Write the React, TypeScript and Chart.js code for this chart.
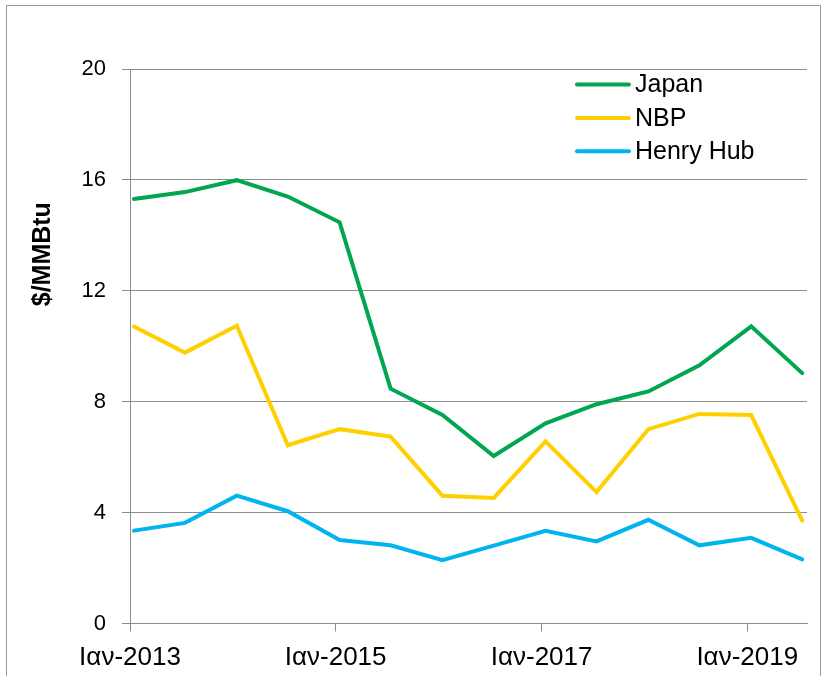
import React, { useEffect, useRef } from "react";
import { Chart, registerables } from "chart.js";

Chart.register(...registerables);

// Observation dates (semi-annual)
const dates = [
  "2013-01-15", "2013-07-15", "2014-01-15", "2014-07-15", "2015-01-15",
  "2015-07-15", "2016-01-15", "2016-07-15", "2017-01-15", "2017-07-15",
  "2018-01-15", "2018-07-15", "2019-01-15", "2019-07-15",
];

const seriesNames = ["Japan", "NBP", "Henry Hub"];
const seriesColors = ["#00A651", "#FFD000", "#00B4F0"];

const japan = [15.31, 15.56, 15.99, 15.4, 14.47, 8.47, 7.52, 6.04, 7.22, 7.91, 8.37, 9.31, 10.72, 9.03];
const nbp = [10.71, 9.77, 10.74, 6.43, 7.01, 6.74, 4.61, 4.53, 6.57, 4.74, 7.01, 7.56, 7.52, 3.71];
const henryHub = [3.35, 3.63, 4.61, 4.05, 3.01, 2.82, 2.28, 2.81, 3.34, 2.96, 3.74, 2.82, 3.09, 2.31];

const axisStart = "2013-01-01";
const axisEnd = "2019-08-01";
const tickDates = ["2013-01-01", "2015-01-01", "2017-01-01", "2019-01-01"];
const tickLabels = ["Ιαν-2013", "Ιαν-2015", "Ιαν-2017", "Ιαν-2019"];

const yMin = 0;
const yMax = 20;
const yStep = 4;
const yTitle = "$/MMBtu";

const FONT = "'Liberation Sans', Arial, sans-serif";
const GRID = "#8c8c8c";

const dayOf = (s: string) => {
  const [y, m, d] = s.split("-").map(Number);
  const [y0, m0, d0] = axisStart.split("-").map(Number);
  return (Date.UTC(y, m - 1, d) - Date.UTC(y0, m0 - 1, d0)) / 86400000;
};

const tickDays = tickDates.map(dayOf);

export default function App() {
  const ref = useRef<HTMLCanvasElement | null>(null);

  useEffect(() => {
    if (!ref.current) return;
    const values = [japan, nbp, henryHub];
    const datasets = seriesNames.map((name, i) => ({
      label: name,
      data: dates.map((d, j) => ({ x: dayOf(d), y: values[i][j] })),
      borderColor: seriesColors[i],
      backgroundColor: seriesColors[i],
      borderWidth: 4,
      pointRadius: 0,
      tension: 0,
      borderCapStyle: "round" as const,
      fill: false,
    }));

    const titlePlugin = {
      id: "yTitle",
      afterDraw(chart: any) {
        const { ctx, chartArea } = chart;
        ctx.save();
        ctx.font = `bold 25px ${FONT}`;
        ctx.fillStyle = "#000";
        ctx.textAlign = "center";
        ctx.textBaseline = "middle";
        ctx.translate(43, chartArea.top + 0.334 * (chartArea.bottom - chartArea.top));
        ctx.rotate(-Math.PI / 2);
        ctx.fillText(yTitle, 0, 0);
        ctx.restore();
      },
    };

    const legendPlugin = {
      id: "customLegend",
      afterDraw(chart: any) {
        const { ctx, chartArea } = chart;
        const x0 = chartArea.right - 230;
        const y0 = chartArea.top + 15.5;
        ctx.save();
        chart.data.datasets.forEach((ds: any, i: number) => {
          const y = y0 + i * 33.4;
          ctx.strokeStyle = ds.borderColor;
          ctx.lineWidth = 4;
          ctx.lineCap = "round";
          ctx.beginPath();
          ctx.moveTo(x0, y);
          ctx.lineTo(x0 + 52, y);
          ctx.stroke();
          ctx.font = `25px ${FONT}`;
          ctx.fillStyle = "#000";
          ctx.textAlign = "left";
          ctx.textBaseline = "middle";
          ctx.fillText(ds.label, x0 + 58, y + 1);
        });
        ctx.restore();
      },
    };

    const chart = new Chart(ref.current, {
      type: "line",
      data: { datasets },
      options: {
        animation: false,
        responsive: false,
        devicePixelRatio: 1,
        layout: { padding: { top: 69, right: 24, left: 0, bottom: 0 } },
        plugins: { legend: { display: false }, tooltip: { enabled: false } },
        scales: {
          x: {
            type: "linear",
            min: 0,
            max: dayOf(axisEnd),
            afterFit(scale: any) {
              scale.height = 52.5;
            },
            afterBuildTicks(scale: any) {
              scale.ticks = tickDays.map((v) => ({ value: v }));
            },
            grid: { drawOnChartArea: false, color: GRID, tickLength: 8, lineWidth: 1 },
            border: { color: GRID, width: 1 },
            ticks: {
              autoSkip: false,
              maxRotation: 0,
              color: "#000",
              font: { family: FONT, size: 26 },
              padding: 11,
              callback: (v: any) => {
                const idx = tickDays.indexOf(Number(v));
                return idx >= 0 ? tickLabels[idx] : "";
              },
            },
          },
          y: {
            min: yMin,
            max: yMax,
            afterFit(scale: any) {
              scale.width = 130;
            },
            grid: { color: GRID, tickLength: 8, lineWidth: 1 },
            border: { color: GRID, width: 1 },
            ticks: {
              stepSize: yStep,
              color: "#000",
              font: { family: FONT, size: 22 },
              padding: 16,
            },
          },
        },
      },
      plugins: [titlePlugin, legendPlugin],
    });
    return () => chart.destroy();
  }, []);

  return (
    <div style={{ position: "fixed", left: 0, top: 0, width: 831, height: 676, overflow: "hidden", background: "#fff" }}>
      <div
        style={{
          position: "absolute",
          left: 6,
          top: 5,
          width: 815,
          height: 720,
          border: "1.5px solid #999",
          boxSizing: "border-box",
        }}
      />
      <canvas ref={ref} width={831} height={676} style={{ position: "absolute", left: 0, top: 0, width: 831, height: 676 }} />
    </div>
  );
}
